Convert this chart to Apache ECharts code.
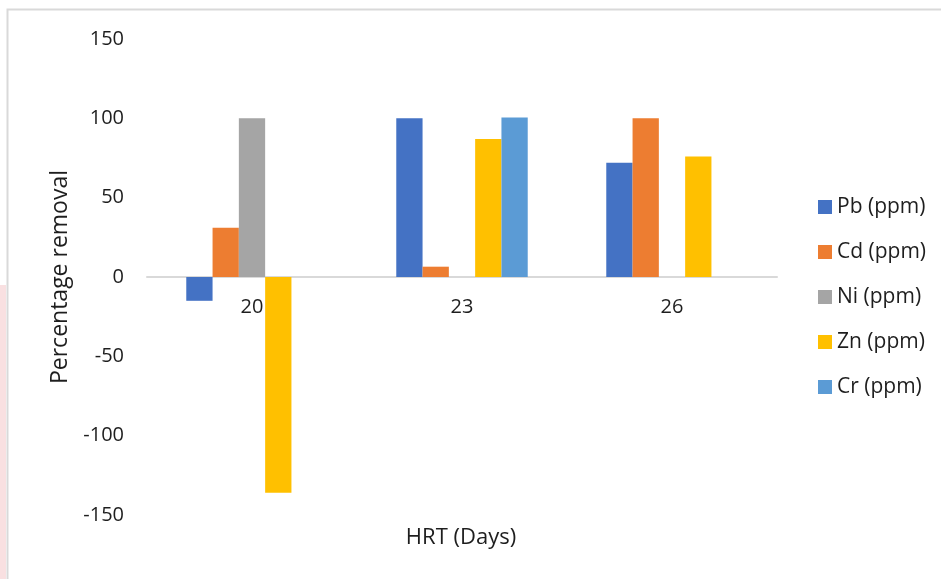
<!DOCTYPE html>
<html>
<head>
<meta charset="utf-8">
<title>Percentage removal vs HRT</title>
<script src="https://cdn.jsdelivr.net/npm/echarts@6/dist/echarts.min.js"></script>
<style>
  html, body { margin: 0; padding: 0; background: #ffffff; }
  #chart { width: 941px; height: 579px; }
</style>
</head>
<body>
<div id="chart"></div>
<script>
// Hydraulic retention time categories (days)
const categories = ['20', '23', '26'];

// Percentage removal per metal
const pb = [-15, 100, 72];
const cd = [31, 6.5, 100];
const ni = [100, 0, 0];
const zn = [-136, 87, 76];
const cr = [0, 100.6, 0];

const seriesNames = ['Pb (ppm)', 'Cd (ppm)', 'Ni (ppm)', 'Zn (ppm)', 'Cr (ppm)'];
const seriesColors = ['#4472C4', '#ED7D31', '#A5A5A5', '#FFC000', '#5B9BD5'];
const seriesValues = [pb, cd, ni, zn, cr];

// Y-axis range
const yMin = -150;
const yMax = 150;
const yStep = 50;

const FONT = '"Open Sans", Lato, sans-serif';
const TEXT = '#1e1e1e';

// Plot box; the category axis sits on the zero value line
const GRID_TOP = 39;
const GRID_BOTTOM = 64;
const GRID_H = 579 - GRID_TOP - GRID_BOTTOM;
const zeroOffset = -GRID_H * (0 - yMin) / (yMax - yMin);

const chart = echarts.init(document.getElementById('chart'), null, { renderer: 'canvas' });

const option = {
  backgroundColor: '#ffffff',
  animation: false,
  textStyle: { fontFamily: FONT },
  grid: { left: 147, right: 164, top: GRID_TOP, bottom: GRID_BOTTOM, containLabel: false },
  legend: {
    orient: 'vertical',
    left: 818,
    top: 196,
    padding: 0,
    itemWidth: 14,
    itemHeight: 14,
    itemGap: 23,
    icon: 'rect',
    data: seriesNames,
    textStyle: { fontFamily: FONT, fontSize: 21, color: TEXT, lineHeight: 22 }
  },
  xAxis: {
    type: 'category',
    data: categories,
    offset: zeroOffset,
    axisLine: { show: true, onZero: false, lineStyle: { color: '#d9d9d9', width: 2 } },
    axisTick: { show: false },
    axisLabel: { fontFamily: FONT, fontSize: 20, color: TEXT, margin: 20 },
    splitLine: { show: false }
  },
  yAxis: {
    type: 'value',
    min: yMin,
    max: yMax,
    interval: yStep,
    name: 'Percentage removal',
    nameLocation: 'middle',
    nameGap: 72,
    nameTextStyle: { fontFamily: FONT, fontSize: 23, color: TEXT },
    axisLine: { show: false },
    axisTick: { show: false },
    splitLine: { show: false },
    axisLabel: { fontFamily: FONT, fontSize: 20, color: TEXT, margin: 23 }
  },
  series: seriesNames.map((name, i) => ({
    name: name,
    type: 'bar',
    data: seriesValues[i],
    barGap: '0%',
    barCategoryGap: '37.4%',
    itemStyle: { color: seriesColors[i] }
  })),
  graphic: [
    {
      // x-axis title
      type: 'text',
      x: 461,
      y: 538,
      style: {
        text: 'HRT (Days)',
        font: '22px ' + FONT,
        fill: TEXT,
        align: 'center',
        verticalAlign: 'middle'
      }
    },
    {
      // outer frame, top and left edges
      type: 'polyline',
      shape: { points: [[7.5, 579], [7.5, 9.5], [941, 9.5]] },
      style: { stroke: '#d9d9d9', lineWidth: 2, fill: null }
    },
    {
      type: 'rect',
      shape: { x: 0, y: 285, width: 6, height: 294 },
      style: { fill: '#f9e0e1' }
    }
  ]
};

chart.setOption(option);
</script>
</body>
</html>
